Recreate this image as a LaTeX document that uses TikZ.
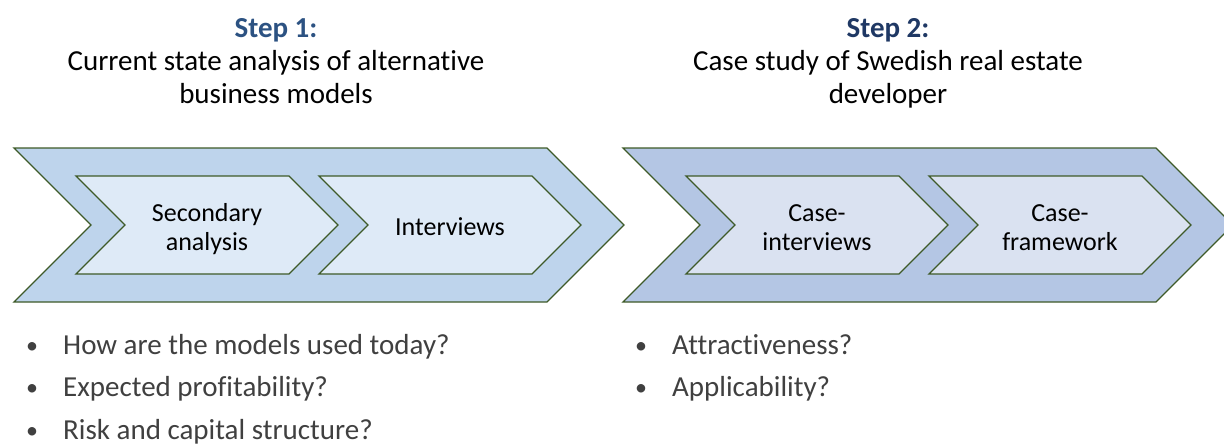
\documentclass[tikz,border=0pt]{standalone}
\usepackage{fontspec}
\setmainfont{Carlito}[Ligatures=NoCommon]
\definecolor{stepline}{RGB}{62,90,40}
\definecolor{outerone}{RGB}{190,212,236}
\definecolor{innerone}{RGB}{222,234,247}
\definecolor{outertwo}{RGB}{180,198,228}
\definecolor{innertwo}{RGB}{218,226,241}
\definecolor{headone}{RGB}{44,82,130}
\definecolor{headtwo}{RGB}{31,56,100}
\definecolor{qtext}{RGB}{64,64,64}

\newcommand{\qbullet}{\makebox[0pt]{\raisebox{1pt}{\fontsize{24}{24}\selectfont\textbullet}}\hspace{31pt}}

\begin{document}
\begin{tikzpicture}[x=1pt, y=-1pt,
    chevron/.style={draw=stepline, line width=1.3pt, line join=miter},
    steptitle/.style={align=center, inner sep=0pt, anchor=base,
      font=\fontsize{29}{33}\selectfont},
    stepbox/.style={align=center, inner sep=0pt, anchor=base,
      font=\fontsize{26}{29}\selectfont},
    question/.style={anchor=base west, inner sep=0pt, text=qtext,
      font=\fontsize{29}{35}\selectfont}]
    \useasboundingbox (0,0) rectangle (1224,444);

    % step 1: outer arrow and its two phases
    \draw[chevron, fill=outerone] (14,148) -- ++(533,0) -- ++(77,77) -- ++(-77,77)
        -- ++(-533,0) -- ++(77,-77) -- cycle;
    \draw[chevron, fill=innerone] (76,176) -- ++(213,0) -- ++(49,49) -- ++(-49,49)
        -- ++(-213,0) -- ++(49,-49) -- cycle;
    \draw[chevron, fill=innerone] (319,176) -- ++(213,0) -- ++(49,49) -- ++(-49,49)
        -- ++(-213,0) -- ++(49,-49) -- cycle;

    % step 2: outer arrow and its two phases
    \draw[chevron, fill=outertwo] (623,148) -- ++(533,0) -- ++(77,77) -- ++(-77,77)
        -- ++(-533,0) -- ++(77,-77) -- cycle;
    \draw[chevron, fill=innertwo] (686,176) -- ++(213,0) -- ++(49,49) -- ++(-49,49)
        -- ++(-213,0) -- ++(49,-49) -- cycle;
    \draw[chevron, fill=innertwo] (929,176) -- ++(213,0) -- ++(49,49) -- ++(-49,49)
        -- ++(-213,0) -- ++(49,-49) -- cycle;

    % headings (base sits on the last line)
    \node[steptitle] (title1) at (276,103) {\textcolor{headone}{\textbf{Step 1:}}\\
        Current state analysis of alternative\\business models};
    \node[steptitle] (title2) at (888,103) {\textcolor{headtwo}{\textbf{Step 2:}}\\
        Case study of Swedish real estate\\developer};

    % phase labels
    \node[stepbox] (secondary) at (207,250) {Secondary\\analysis};
    \node[stepbox] (interviews) at (450,235) {Interviews};
    \node[stepbox] (caseint) at (817,250) {Case-\\interviews};
    \node[stepbox] (casefw) at (1060,250) {Case-\\framework};

    % research questions
    \node[question] (q1) at (32,354) {\qbullet How are the models used today?};
    \node[question] (q2) at (32,396.5) {\qbullet Expected profitability?};
    \node[question] (q3) at (32,439) {\qbullet Risk and capital structure?};
    \node[question] (q4) at (641,354) {\qbullet Attractiveness?};
    \node[question] (q5) at (641,396.5) {\qbullet Applicability?};
\end{tikzpicture}
\end{document}
